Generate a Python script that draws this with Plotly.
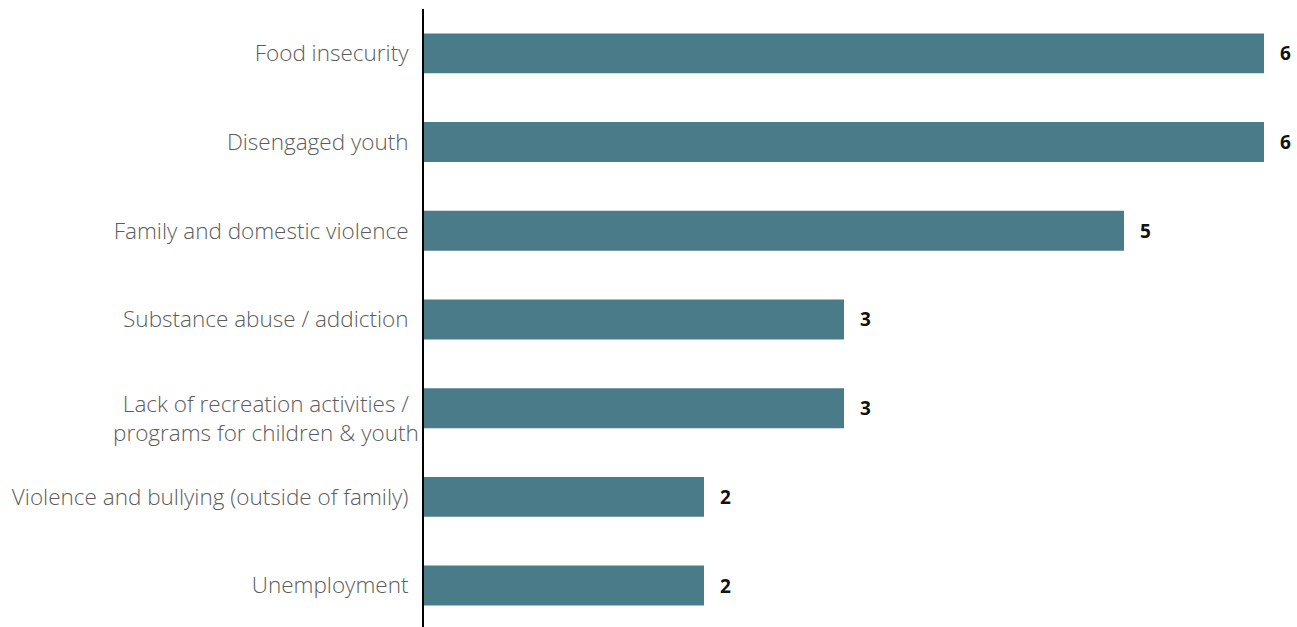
import plotly.graph_objects as go

categories = [
    "Food insecurity",
    "Disengaged youth",
    "Family and domestic violence",
    "Substance abuse / addiction",
    "Lack of recreation activities / <br>programs for children & youth",
    "Violence and bullying (outside of family)",
    "Unemployment",
]
values = [6, 6, 5, 3, 3, 2, 2]

bar_color = "#4a7b88"
label_font = dict(family="Open Sans", size=22.5, color="#5c5c5c", weight=300)

fig = go.Figure()
fig.add_trace(go.Bar(
    x=values,
    y=categories,
    orientation="h",
    marker=dict(color=bar_color, line=dict(width=0)),
    hoverinfo="x+y",
))

for c, v in zip(categories, values):
    fig.add_annotation(
        x=v, y=c, text=f"<b>{v}</b>", showarrow=False,
        xanchor="left", xshift=14,
        font=dict(family="Open Sans", size=19, color="#111111"),
    )

# multi-line category label: centred lines, sitting slightly lower
ticktext = []
for c in categories:
    if "<br>" in c:
        ticktext.append("")
        fig.add_annotation(
            xref="paper", x=0, y=c, text=c.replace(" <br>", "<br>"),
            showarrow=False, xanchor="right", xshift=-3, yshift=-10,
            align="center", font=label_font,
        )
    else:
        ticktext.append(c)

fig.update_layout(
    width=1297, height=627,
    margin=dict(l=424, r=33, t=9, b=0),
    paper_bgcolor="white", plot_bgcolor="white",
    bargap=0.55,
    showlegend=False,
    font=label_font,
)
fig.update_xaxes(range=[0, 6], visible=False, showgrid=False, zeroline=False)
fig.update_yaxes(
    type="category",
    categoryorder="array", categoryarray=categories,
    tickmode="array", tickvals=categories, ticktext=ticktext,
    range=[6.467, -0.5],
    showline=True, linecolor="black", linewidth=2,
    showgrid=False, zeroline=False, ticks="", ticklabelstandoff=9,
    tickfont=label_font,
)

fig.write_html("out.html")
